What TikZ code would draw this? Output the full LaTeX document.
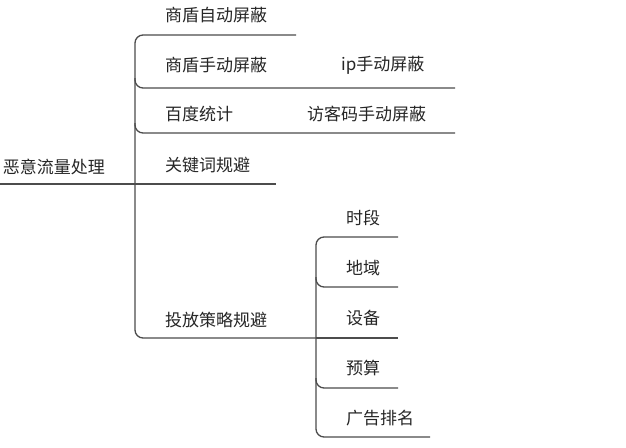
\documentclass[tikz,border=0pt]{standalone}
\usepackage{fontspec}
\setmainfont{Noto Sans CJK SC}
\begin{document}
\begin{tikzpicture}[x=1pt,y=-1pt,
  lbl/.style={anchor=west,inner sep=0pt,font=\fontsize{17}{17}\selectfont,text=black!85},
  ln/.style={line width=1.3pt,draw=black!70,rounded corners=8pt}]
\useasboundingbox[fill=white] (0,0) rectangle (626,447);
% labels
\node[lbl,anchor=east] (root) at (105,167) {恶意流量处理};
\node[lbl] (a) at (165,15) {商盾自动屏蔽};
\node[lbl] (b) at (165,65) {商盾手动屏蔽};
\node[lbl] (b1) at (341,65) {ip手动屏蔽};
\node[lbl] (c) at (165,114) {百度统计};
\node[lbl] (c1) at (307,114) {访客码手动屏蔽};
\node[lbl] (d) at (165,165) {关键词规避};
\node[lbl] (e) at (165,320) {投放策略规避};
\node[lbl] (e1) at (346,218) {时段};
\node[lbl] (e2) at (346,268) {地域};
\node[lbl] (e3) at (346,318) {设备};
\node[lbl] (e4) at (346,368) {预算};
\node[lbl] (e5) at (346,418) {广告排名};
% connectors
\draw[ln] (0,184) -- (276,184);
\draw[ln] (296,35) -- (135,35) -- (135,338) -- (316,338);
\draw[ln] (135,78) -- (135,88) -- (455,88);
\draw[ln] (135,123) -- (135,133) -- (455,133);
\draw[ln] (398,237) -- (316,237) -- (316,437) -- (430,437);
\draw[ln] (316,277) -- (316,287) -- (398,287);
\draw[ln] (316,338) -- (398,338);
\draw[ln] (316,378) -- (316,388) -- (398,388);
\end{tikzpicture}
\end{document}
